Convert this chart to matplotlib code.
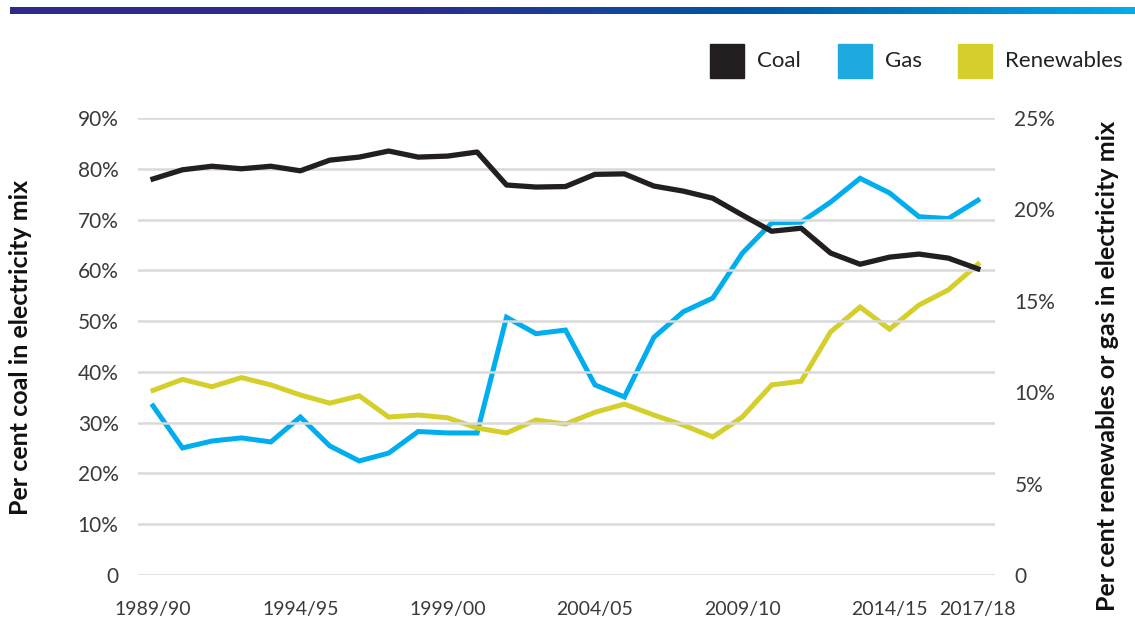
import numpy as np
import matplotlib
matplotlib.use("Agg")
import matplotlib.pyplot as plt
from matplotlib.patches import Rectangle

plt.rcParams['font.family'] = ['Lato', 'DejaVu Sans']

years = ['1989/90', '1990/91', '1991/92', '1992/93', '1993/94', '1994/95', '1995/96',
         '1996/97', '1997/98', '1998/99', '1999/00', '2000/01', '2001/02', '2002/03',
         '2003/04', '2004/05', '2005/06', '2006/07', '2007/08', '2008/09', '2009/10',
         '2010/11', '2011/12', '2012/13', '2013/14', '2014/15', '2015/16', '2016/17',
         '2017/18']

# per cent of electricity mix
coal = [78.0, 79.8, 80.5, 80.0, 80.5, 79.6, 81.7, 82.3, 83.5, 82.3, 82.5, 83.3, 76.8,
        76.4, 76.5, 78.9, 79.0, 76.6, 75.6, 74.2, 70.9, 67.7, 68.3, 63.4, 61.2, 62.6,
        63.2, 62.4, 60.3]
gas = [9.25, 6.95, 7.33, 7.5, 7.28, 8.64, 7.06, 6.24, 6.67, 7.85, 7.77, 7.77, 14.1,
       13.2, 13.4, 10.4, 9.74, 13.0, 14.4, 15.15, 17.6, 19.26, 19.3, 20.4, 21.7, 20.9,
       19.6, 19.5, 20.5]
renewables = [10.1, 10.7, 10.3, 10.8, 10.4, 9.85, 9.4, 9.8, 8.64, 8.75, 8.6, 8.04,
              7.77, 8.48, 8.26, 8.9, 9.35, 8.75, 8.2, 7.55, 8.64, 10.4, 10.6, 13.3,
              14.66, 13.45, 14.77, 15.6, 17.0]

series_names = ['Coal', 'Gas', 'Renewables']
tick_pos = [0, 5, 10, 15, 20, 25, 28]
left_ticks = list(range(0, 91, 10))
right_ticks = list(range(0, 26, 5))

c_coal = '#231f20'
c_gas = '#00aeef'
c_ren = '#d5cf2b'
tick_col = '#3a3a3a'

W, H = 1135, 623
fig = plt.figure(figsize=(W / 100, H / 100), dpi=100)

# gradient banner at the top
bar = fig.add_axes([10 / W, 1 - 14 / H, 1125 / W, 7 / H])
grad = matplotlib.colors.LinearSegmentedColormap.from_list(
    'banner', ['#2e2a8c', '#2e2a8c', '#0057a5', '#00aeea'])
bar.imshow(np.linspace(0, 1, 256)[None, :], aspect='auto', cmap=grad)
bar.axis('off')

ax = fig.add_axes([138 / W, 1 - 575 / H, 857 / W, 457 / H])
ax2 = ax.twinx()
x = np.arange(len(years))

ax.plot(x, coal, color=c_coal, lw=3.8, solid_joinstyle='round', zorder=3)
ax2.plot(x, gas, color=c_gas, lw=3.6, solid_joinstyle='miter')
ax2.plot(x, renewables, color=c_ren, lw=3.6, solid_joinstyle='miter')
ax.set_zorder(2)
ax.patch.set_visible(False)

ax.set_xlim(-0.51, 28.58)
ax.set_ylim(0, 90)
ax2.set_ylim(0, 25)
for t in left_ticks:
    ax.axhline(t, color='#d9d9d9', lw=1.8, zorder=0)
ax.set_yticks(left_ticks)
ax.set_yticklabels(['0'] + [f'{t}%' for t in left_ticks[1:]])
ax2.set_yticks(right_ticks)
ax2.set_yticklabels(['0'] + [f'{t}%' for t in right_ticks[1:]])
ax.set_xticks(tick_pos)
ax.set_xticklabels([years[i] for i in tick_pos])

for a in (ax, ax2):
    for s in a.spines.values():
        s.set_visible(False)
    a.tick_params(length=0, labelsize=15, colors=tick_col)
ax.tick_params(axis='x', labelsize=14, pad=19)
ax.tick_params(axis='y', pad=14)
ax2.tick_params(axis='y', pad=14)

ax.set_ylabel('Per cent coal in electricity mix', fontsize=18, fontweight='bold',
              color='#111111')
ax2.set_ylabel('Per cent renewables or gas in electricity mix', fontsize=18,
               fontweight='bold', color='#111111')
ax.yaxis.set_label_coords(-0.124, 0.497)
ax2.yaxis.set_label_coords(1.118, 0.458)

# legend: square swatches with labels
legend_x = [710, 838, 958]
for name, col, lx in zip(series_names, [c_coal, '#1fa9e1', c_ren], legend_x):
    fig.patches.append(Rectangle((lx / W, 1 - 78 / H), 34 / W, 34 / H,
                                 transform=fig.transFigure, color=col))
    fig.text((lx + 47) / W, 1 - 61 / H, name, fontsize=16, color='#222222',
             va='center', ha='left')

fig.savefig('out.png', dpi=100)
